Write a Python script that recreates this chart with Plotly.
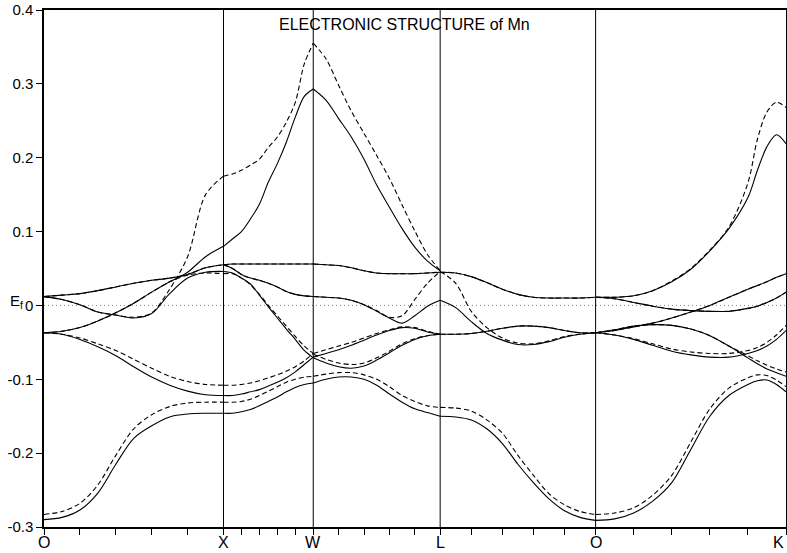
import plotly.graph_objects as go

# ---------------- data ----------------
POINT_LABELS = ["O", "X", "W", "L", "O", "K"]
SEGMENT_LENGTHS = [1.0, 0.5, 0.7071, 0.8660, 1.0607]   # O-X, X-W, W-L, L-O, O-K
FRAC_STD = [0.0, 0.1, 0.2, 0.3, 0.4, 0.5, 0.6, 0.7, 0.8, 0.9, 1.0]
FRAC_GK = [0.0, 0.1, 0.2, 0.3, 0.4, 0.5, 0.6, 0.7, 0.8, 0.85, 0.9, 0.95, 1.0]

Y_TICKS = [-0.3, -0.2, -0.1, 0.0, 0.1, 0.2, 0.3, 0.4]
Y_TICK_TEXT = ["-0.3", "-0.2", "-0.1", "0", "0.1", "0.2", "0.3", "0.4"]

# O -> X
GX_SOLID = [
    [-0.290, -0.287, -0.277, -0.254, -0.215, -0.180, -0.163, -0.151, -0.147, -0.146, -0.146],
    [-0.037, -0.039, -0.046, -0.056, -0.068, -0.083, -0.097, -0.108, -0.116, -0.121, -0.122],
    [0.012, 0.014, 0.016, 0.020, 0.025, 0.030, 0.034, 0.037, 0.042, 0.051, 0.055],
    [-0.037, -0.035, -0.030, -0.021, -0.010, 0.003, 0.018, 0.032, 0.045, 0.066, 0.080],
    [0.012, 0.008, 0.001, -0.009, -0.013, -0.017, -0.011, 0.016, 0.037, 0.045, 0.046],
]
GX_DASHED = [
    [-0.283, -0.279, -0.268, -0.243, -0.203, -0.167, -0.148, -0.137, -0.132, -0.131, -0.131],
    [-0.037, -0.039, -0.044, -0.052, -0.061, -0.073, -0.085, -0.096, -0.103, -0.107, -0.108],
    [0.012, 0.014, 0.016, 0.020, 0.025, 0.030, 0.034, 0.037, 0.042, 0.051, 0.055],
    [-0.037, -0.035, -0.030, -0.021, -0.010, 0.003, 0.018, 0.032, 0.041, 0.044, 0.043],
    [0.012, 0.008, 0.001, -0.009, -0.013, -0.016, -0.010, 0.022, 0.066, 0.150, 0.175],
]

# X -> W
XW_SOLID = [
    [0.080, 0.090, 0.100, 0.117, 0.137, 0.167, 0.192, 0.221, 0.255, 0.283, 0.293],
    [0.055, 0.056, 0.056, 0.056, 0.056, 0.056, 0.056, 0.056, 0.056, 0.056, 0.056],
    [0.055, 0.050, 0.042, 0.037, 0.034, 0.030, 0.025, 0.019, 0.015, 0.013, 0.012],
    [0.046, 0.044, 0.037, 0.029, 0.014, -0.002, -0.017, -0.032, -0.046, -0.061, -0.071],
    [-0.122, -0.122, -0.120, -0.117, -0.114, -0.109, -0.104, -0.098, -0.090, -0.080, -0.070],
    [-0.146, -0.146, -0.144, -0.141, -0.136, -0.130, -0.124, -0.117, -0.111, -0.107, -0.105],
]
XW_DASHED = [
    [0.175, 0.178, 0.183, 0.190, 0.198, 0.214, 0.228, 0.248, 0.275, 0.327, 0.355],
    [0.055, 0.056, 0.056, 0.056, 0.056, 0.056, 0.056, 0.056, 0.056, 0.056, 0.056],
    [0.055, 0.050, 0.042, 0.037, 0.034, 0.030, 0.025, 0.019, 0.015, 0.013, 0.012],
    [0.043, 0.043, 0.037, 0.028, 0.015, 0.000, -0.014, -0.028, -0.042, -0.055, -0.065],
    [-0.108, -0.108, -0.107, -0.105, -0.102, -0.098, -0.094, -0.089, -0.083, -0.075, -0.065],
    [-0.131, -0.131, -0.130, -0.127, -0.122, -0.116, -0.110, -0.104, -0.100, -0.097, -0.096],
]

# W -> L
WL_SOLID = [
    [0.293, 0.278, 0.253, 0.228, 0.198, 0.163, 0.133, 0.104, 0.079, 0.060, 0.047],
    [0.056, 0.055, 0.054, 0.051, 0.047, 0.044, 0.043, 0.043, 0.043, 0.044, 0.045],
    [0.012, 0.011, 0.010, 0.007, 0.001, -0.008, -0.017, -0.024, -0.014, -0.001, 0.007],
    [-0.070, -0.065, -0.060, -0.054, -0.047, -0.040, -0.034, -0.030, -0.031, -0.036, -0.039],
    [-0.071, -0.078, -0.083, -0.085, -0.082, -0.074, -0.064, -0.054, -0.046, -0.041, -0.039],
    [-0.105, -0.100, -0.097, -0.097, -0.100, -0.108, -0.120, -0.131, -0.140, -0.145, -0.150],
]
WL_DASHED = [
    [0.355, 0.334, 0.298, 0.263, 0.233, 0.203, 0.172, 0.136, 0.101, 0.069, 0.047],
    [0.056, 0.055, 0.054, 0.051, 0.047, 0.044, 0.043, 0.043, 0.043, 0.044, 0.045],
    [0.012, 0.011, 0.010, 0.007, 0.001, -0.007, -0.016, -0.014, 0.008, 0.030, 0.046],
    [-0.065, -0.060, -0.055, -0.050, -0.044, -0.038, -0.033, -0.029, -0.030, -0.035, -0.039],
    [-0.066, -0.073, -0.078, -0.080, -0.078, -0.071, -0.062, -0.052, -0.045, -0.041, -0.039],
    [-0.096, -0.093, -0.091, -0.091, -0.094, -0.100, -0.110, -0.122, -0.130, -0.136, -0.138],
]

# L -> O
LG_SOLID = [
    [-0.150, -0.151, -0.155, -0.167, -0.187, -0.215, -0.240, -0.262, -0.278, -0.287, -0.291],
    [0.045, 0.044, 0.039, 0.031, 0.022, 0.015, 0.011, 0.010, 0.010, 0.010, 0.011],
    [0.007, -0.003, -0.022, -0.038, -0.047, -0.053, -0.053, -0.049, -0.043, -0.039, -0.037],
    [-0.039, -0.039, -0.038, -0.035, -0.031, -0.028, -0.028, -0.030, -0.034, -0.037, -0.037],
]
LG_DASHED = [
    [-0.138, -0.139, -0.143, -0.155, -0.173, -0.203, -0.230, -0.255, -0.270, -0.279, -0.283],
    [0.045, 0.044, 0.039, 0.031, 0.022, 0.015, 0.011, 0.010, 0.010, 0.010, 0.011],
    [0.046, 0.030, -0.008, -0.030, -0.044, -0.051, -0.052, -0.048, -0.042, -0.039, -0.037],
    [-0.039, -0.039, -0.038, -0.035, -0.031, -0.028, -0.028, -0.030, -0.034, -0.037, -0.037],
]

# O -> K
GK_SOLID = [
    [0.011, 0.011, 0.013, 0.020, 0.032, 0.049, 0.074, 0.104, 0.146, 0.183, 0.215, 0.231, 0.219],
    [0.011, 0.009, 0.004, -0.001, -0.005, -0.007, -0.008, -0.008, -0.004, -0.001, 0.004, 0.010, 0.018],
    [-0.037, -0.034, -0.029, -0.024, -0.017, -0.009, 0.000, 0.011, 0.022, 0.027, 0.032, 0.038, 0.043],
    [-0.037, -0.033, -0.028, -0.026, -0.027, -0.032, -0.041, -0.055, -0.071, -0.079, -0.086, -0.091, -0.096],
    [-0.037, -0.040, -0.046, -0.054, -0.062, -0.067, -0.070, -0.070, -0.065, -0.061, -0.055, -0.046, -0.034],
    [-0.291, -0.289, -0.281, -0.265, -0.240, -0.195, -0.150, -0.122, -0.107, -0.102, -0.101, -0.107, -0.117],
]
GK_DASHED = [
    [0.011, 0.011, 0.013, 0.020, 0.033, 0.050, 0.075, 0.106, 0.166, 0.225, 0.262, 0.275, 0.268],
    [0.011, 0.009, 0.004, -0.001, -0.005, -0.007, -0.008, -0.008, -0.004, -0.001, 0.004, 0.010, 0.018],
    [-0.037, -0.034, -0.029, -0.024, -0.017, -0.009, 0.000, 0.011, 0.022, 0.027, 0.032, 0.038, 0.043],
    [-0.037, -0.033, -0.028, -0.026, -0.027, -0.032, -0.041, -0.055, -0.068, -0.075, -0.081, -0.086, -0.090],
    [-0.037, -0.040, -0.045, -0.052, -0.059, -0.063, -0.065, -0.065, -0.061, -0.057, -0.050, -0.040, -0.027],
    [-0.283, -0.281, -0.274, -0.257, -0.230, -0.185, -0.140, -0.112, -0.098, -0.094, -0.095, -0.101, -0.110],
]

TITLE = "ELECTRONIC STRUCTURE of Mn"

# ---------------- figure ----------------
starts = [0.0]
for L in SEGMENT_LENGTHS:
    starts.append(starts[-1] + L)
x_end = starts[-1]

segments = [
    (FRAC_STD, GX_SOLID, GX_DASHED),
    (FRAC_STD, XW_SOLID, XW_DASHED),
    (FRAC_STD, WL_SOLID, WL_DASHED),
    (FRAC_STD, LG_SOLID, LG_DASHED),
    (FRAC_GK, GK_SOLID, GK_DASHED),
]

fig = go.Figure()
LINE_W = 1.1
for i, (fr, sol, das) in enumerate(segments):
    xs = [starts[i] + f * SEGMENT_LENGTHS[i] for f in fr]
    for band in das:
        fig.add_trace(go.Scatter(x=xs, y=band, mode="lines", showlegend=False, hoverinfo="skip",
                                 line=dict(color="black", width=LINE_W, dash="5px,3px",
                                           shape="spline", smoothing=0.9)))
    for band in sol:
        fig.add_trace(go.Scatter(x=xs, y=band, mode="lines", showlegend=False, hoverinfo="skip",
                                 line=dict(color="black", width=LINE_W,
                                           shape="spline", smoothing=0.9)))

# tick positions: each segment divided into 5
tickvals = []
for i, L in enumerate(SEGMENT_LENGTHS):
    for j in range(5):
        tickvals.append(starts[i] + j * L / 5)
tickvals.append(x_end)

shapes = []
for sx in starts[1:-1]:
    shapes.append(dict(type="line", xref="x", yref="paper", x0=sx, x1=sx, y0=0, y1=1,
                       line=dict(color="black", width=1)))
shapes.append(dict(type="line", xref="x", yref="y", x0=0, x1=x_end, y0=0, y1=0,
                   line=dict(color="#888888", width=1, dash="1px,3px"), layer="below"))

FONT = "Liberation Sans, Arial, Helvetica, sans-serif"

annotations = [
    dict(text=TITLE, xref="paper", yref="paper", x=0.4865, y=0.971,
         xanchor="center", yanchor="middle", showarrow=False,
         font=dict(size=16, family=FONT)),
    dict(text="E<sub>f</sub>", xref="paper", yref="y", x=-0.048, y=0.021,
         xanchor="left", yanchor="top", showarrow=False,
         font=dict(size=15, family=FONT)),
]
for k, (sx, lab) in enumerate(zip(starts, POINT_LABELS)):
    last = k == len(POINT_LABELS) - 1
    annotations.append(dict(text=lab, xref="x", yref="paper", x=sx, y=0, yshift=-15,
                            xanchor="right" if last else "center", yanchor="middle",
                            showarrow=False, font=dict(size=16, family=FONT)))

fig.update_layout(
    width=787, height=553,
    margin=dict(l=44, r=1, t=10, b=26, autoexpand=False),
    paper_bgcolor="white", plot_bgcolor="white",
    font=dict(family=FONT, color="black", size=15),
    shapes=shapes,
    annotations=annotations,
    xaxis=dict(range=[0, x_end], tickvals=tickvals, showticklabels=False,
               ticks="outside", ticklen=6, tickwidth=1.2, tickcolor="black",
               showline=True, linecolor="black", linewidth=1.5, mirror=True,
               showgrid=False, zeroline=False, automargin=False),
    yaxis=dict(range=[-0.3, 0.4], tickvals=Y_TICKS, ticktext=Y_TICK_TEXT,
               ticks="outside", ticklen=6, tickwidth=1.2, tickcolor="black",
               showline=True, linecolor="black", linewidth=1.5, mirror=True,
               showgrid=False, zeroline=False, automargin=False,
               tickfont=dict(size=15, family=FONT)),
)

fig.write_html(
    "out.html",
    config={"displayModeBar": False},
    post_script="document.body.style.margin='0px';document.body.style.overflow='hidden';",
)
